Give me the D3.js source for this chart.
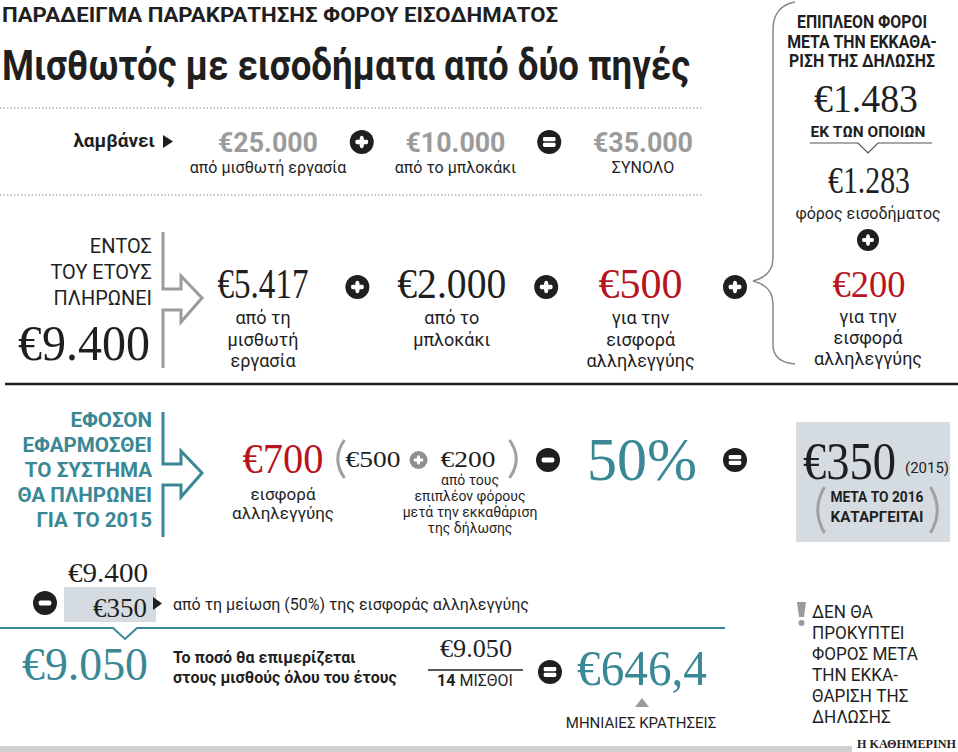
<!DOCTYPE html>
<html>
<head>
<meta charset="utf-8">
<script src="https://d3js.org/d3.v7.min.js"></script>
<style>
  body { margin: 0; background: #fff; }
</style>
</head>
<body>
<svg id="canvas" width="958" height="752"></svg>
<script>
// income received during the year
const incomeValues = [25000, 10000, 35000];
const incomeLabels = ["από μισθωτή εργασία", "από το μπλοκάκι", "ΣΥΝΟΛΟ"];
const incomeOps = ["plus", "equals"];

// what is paid during the year
const paidTotal = 9400;
const paidValues = [5417, 2000, 500];
const paidLabels = [["από τη", "μισθωτή", "εργασία"], ["από το", "μπλοκάκι"], ["για την", "εισφορά", "αλληλεγγύης"]];

// extra taxes after the tax return
const extraTotal = 1483;
const extraValues = [1283, 200];
const extraLabels = [["φόρος εισοδήματος"], ["για την", "εισφορά", "αλληλεγγύης"]];

// new system
const solidarityTotal = 700;
const solidarityParts = [500, 200];
const reductionPct = 50;
const reducedAmount = 350;
const reducedYear = 2015;
const yearlyAfter = 9050;
const salaries = 14;
const monthlyWithholding = 646.4;

const svg = d3.select("#canvas");

const SANS = "Roboto, 'Open Sans', 'DejaVu Sans', sans-serif";
const SERIF = "'Liberation Serif', 'DejaVu Serif', serif";
const RED = "#b8141e", TEAL = "#3a8795", GRAY = "#9b9b9b", INK = "#1f1f1f", BOX = "#d4dce2";

const gr = d3.formatLocale({decimal: ",", thousands: ".", grouping: [3], currency: ["€", ""]});
const eur = gr.format("$,.0f");
const eur1 = gr.format("$,.1f");

let label = (x, y, s, o = {}) => {
  const t = svg.append("text")
    .attr("x", x).attr("y", y)
    .attr("text-anchor", o.anchor || "middle")
    .attr("font-family", o.family || SANS)
    .attr("font-size", o.size || 17)
    .attr("font-weight", o.weight || 400)
    .attr("fill", o.fill || INK)
    .text(s);
  if (o.width) {
    t.attr("textLength", o.width).attr("lengthAdjust", "spacingAndGlyphs");
  } else if (o.squeeze) {
    t.attr("textLength", t.node().getComputedTextLength() * o.squeeze).attr("lengthAdjust", "spacingAndGlyphs");
  }
  return t;
};

let lines = (x, y0, arr, step, o) => arr.forEach((s, i) => label(x, y0 + i * step, s, o));

// round black operator icons
let op = (x, y, type, r = 12, fill = INK) => {
  const g = svg.append("g").attr("transform", `translate(${x},${y})`);
  g.append("circle").attr("r", r).attr("fill", fill);
  const w = r * 1.05, h = r * 0.36;
  const bar = (bx, by, bw, bh) => g.append("rect")
    .attr("x", bx).attr("y", by).attr("width", bw).attr("height", bh)
    .attr("rx", bh / 3).attr("fill", "#fff");
  if (type === "plus") {
    bar(-w / 2, -h / 2, w, h);
    bar(-h / 2, -w / 2, h, w);
  } else if (type === "minus") {
    bar(-w / 2, -h * 0.6, w, h * 1.2);
  } else {
    bar(-w / 2, -h * 1.15, w, h);
    bar(-w / 2, h * 0.15, w, h);
  }
};

let line = d3.line();

// outlined arrow that points to the right
let arrow = (x, yTop, yMid, yBot, color) => {
  svg.append("path")
    .attr("d", line([
      [x, yTop], [x, yMid - 9], [x + 18, yMid - 9], [x + 18, yMid - 22], [x + 39, yMid],
      [x + 18, yMid + 24], [x + 18, yMid + 12], [x, yMid + 12], [x, yBot]
    ]))
    .attr("fill", "none").attr("stroke", color).attr("stroke-width", 3);
};

let paren = (x, y0, y1, side, color = "#a0a0a0") => {
  const k = side === "left" ? -9 : 9;
  svg.append("path")
    .attr("d", `M${x - k / 2},${y0} Q${x + k},${(y0 + y1) / 2} ${x - k / 2},${y1}`)
    .attr("fill", "none").attr("stroke", color).attr("stroke-width", 3);
};

// ---------- header ----------
label(2, 22, "ΠΑΡΑΔΕΙΓΜΑ ΠΑΡΑΚΡΑΤΗΣΗΣ ΦΟΡΟΥ ΕΙΣΟΔΗΜΑΤΟΣ", {anchor: "start", weight: 700, size: 20, width: 556});
label(2, 80, "Μισθωτός με εισοδήματα από δύο πηγές", {anchor: "start", weight: 700, size: 42, width: 688});

[108, 195].forEach(y => svg.append("line")
  .attr("x1", 0).attr("x2", 703).attr("y1", y).attr("y2", y)
  .attr("stroke", "#8a8a8a").attr("stroke-width", 1).attr("stroke-dasharray", "1.5,2"));

// ---------- income row ----------
label(155, 147, "λαμβάνει", {anchor: "end", weight: 700, size: 19});
svg.append("path").attr("d", line([[163, 135], [173, 141.5], [163, 148]])).attr("fill", INK);

const incomeX = d3.scalePoint().domain(d3.range(incomeValues.length * 2 - 1)).range([268, 643]);
incomeValues.forEach((v, i) => {
  label(incomeX(i * 2), 152, eur(v), {size: 28, weight: 700, fill: GRAY, width: 100});
  label(incomeX(i * 2), 173, incomeLabels[i], {size: 16});
});
incomeOps.forEach((t, i) => op(incomeX(i * 2 + 1), 142, t));

// ---------- paid during the year ----------
lines(152, 253, ["ΕΝΤΟΣ", "ΤΟΥ ΕΤΟΥΣ", "ΠΛΗΡΩΝΕΙ"], 26, {anchor: "end", size: 21, squeeze: 0.95});
label(18, 360, eur(paidTotal), {anchor: "start", family: SERIF, size: 50, width: 132});
arrow(163, 232, 298, 368, GRAY);

const payX = d3.scalePoint().domain(d3.range(paidValues.length * 2)).range([263, 735]);
const payWidth = [91, 109, 84];
paidValues.forEach((v, i) => {
  label(payX(i * 2), 298, eur(v), {family: SERIF, size: 42, fill: i === 2 ? RED : INK, width: payWidth[i]});
  lines(payX(i * 2), 324, paidLabels[i], 21.5, {size: 18});
  op(payX(i * 2 + 1), 287, "plus");
});

// brace and extra taxes panel
svg.append("path")
  .attr("d", "M795,2 Q773,6 773,30 L773,258 Q773,276 753,281 Q773,286 773,304 L773,345 Q773,362 795,364")
  .attr("fill", "none").attr("stroke", "#8a8a8a").attr("stroke-width", 1.5);

lines(862, 28, ["ΕΠΙΠΛΕΟΝ ΦΟΡΟΙ", "ΜΕΤΑ ΤΗΝ ΕΚΚΑΘΑ-", "ΡΙΣΗ ΤΗΣ ΔΗΛΩΣΗΣ"], 19.5, {weight: 700, size: 18, squeeze: 0.88});
label(866, 112, eur(extraTotal), {family: SERIF, size: 40, width: 104});
label(868, 137, "ΕΚ ΤΩΝ ΟΠΟΙΩΝ", {weight: 700, size: 14, width: 115});
svg.append("path")
  .attr("d", line([[810, 143], [858, 143], [868, 153], [878, 143], [932, 143]]))
  .attr("fill", "none").attr("stroke", "#555").attr("stroke-width", 1.2);

const extraY = d3.scalePoint().domain(d3.range(extraValues.length)).range([193, 297]);
const extraWidth = [82, 73];
extraValues.forEach((v, i) => {
  label(869, extraY(i), eur(v), {family: SERIF, size: 37, fill: i === 1 ? RED : INK, width: extraWidth[i]});
  lines(868, extraY(i) + 26, extraLabels[i], 21, {size: i === 0 ? 16 : 18});
});
op(868, 240, "plus", 11);

svg.append("line").attr("x1", 5).attr("x2", 958).attr("y1", 384).attr("y2", 384)
  .attr("stroke", INK).attr("stroke-width", 2.5);

// ---------- if the system is applied ----------
lines(152, 427, ["ΕΦΟΣΟΝ", "ΕΦΑΡΜΟΣΘΕΙ", "ΤΟ ΣΥΣΤΗΜΑ", "ΘΑ ΠΛΗΡΩΝΕΙ", "ΓΙΑ ΤΟ 2015"], 25,
  {anchor: "end", weight: 700, size: 21, fill: TEAL, squeeze: 0.98});
arrow(163, 412, 473, 537, TEAL);

label(283, 473, eur(solidarityTotal), {family: SERIF, size: 42, fill: RED, width: 81});
lines(283, 500, ["εισφορά", "αλληλεγγύης"], 19, {size: 17});

paren(340, 440, 478, "left");
const partX = d3.scalePoint().domain(d3.range(solidarityParts.length * 2 - 1)).range([373, 468]);
solidarityParts.forEach((v, i) => label(partX(i * 2), 467, eur(v), {family: SERIF, size: 23, width: 55}));
op(partX(1) - 2, 460, "plus", 9, "#8f8f8f");
paren(514, 440, 478, "right");
lines(470, 485, ["από τους", "επιπλέον φόρους", "μετά την εκκαθάριση", "της δήλωσης"], 16, {size: 14});

op(548, 460, "minus");
label(642, 480, reductionPct + "%", {family: SERIF, size: 62, fill: TEAL, width: 110});
op(735, 460, "equals");

svg.append("rect").attr("x", 796).attr("y", 422).attr("width", 154).attr("height", 120).attr("fill", BOX);
label(803, 479, eur(reducedAmount), {anchor: "start", family: SERIF, size: 52, width: 93});
label(905, 473, `(${reducedYear})`, {anchor: "start", size: 15});
lines(877, 502, ["ΜΕΤΑ ΤΟ 2016", "ΚΑΤΑΡΓΕΙΤΑΙ"], 20, {weight: 700, size: 14, width: 93});
paren(820, 487, 533, "left");
paren(935, 487, 533, "right");

// ---------- result ----------
label(68, 582, eur(paidTotal), {anchor: "start", family: SERIF, size: 28, width: 80});
op(45, 603, "minus");
svg.append("rect").attr("x", 64).attr("y", 587).attr("width", 92).attr("height", 35).attr("fill", BOX);
label(93, 617, eur(reducedAmount), {anchor: "start", family: SERIF, size: 28, width: 54});
svg.append("path").attr("d", line([[153, 597], [162, 603.5], [153, 610]])).attr("fill", INK);
label(173, 610, `από τη μείωση (${reductionPct}%) της εισφοράς αλληλεγγύης`, {anchor: "start", size: 16});

svg.append("path")
  .attr("d", line([[0, 628], [113, 628], [125, 639], [137, 628], [725, 628]]))
  .attr("fill", "none").attr("stroke", TEAL).attr("stroke-width", 2);

label(22, 680, eur(yearlyAfter), {anchor: "start", family: SERIF, size: 47, fill: TEAL, width: 126});
label(173, 663, "Το ποσό θα επιμερίζεται", {anchor: "start", weight: 700, size: 16});
label(173, 683, "στους μισθούς όλου του έτους", {anchor: "start", weight: 700, size: 16});

label(476, 657, eur(yearlyAfter), {family: SERIF, size: 26, width: 72});
svg.append("line").attr("x1", 428).attr("x2", 523).attr("y1", 670).attr("y2", 670)
  .attr("stroke", INK).attr("stroke-width", 1.5);
const frac = label(475, 686, "", {size: 16});
frac.append("tspan").attr("font-weight", 700).text(salaries);
frac.append("tspan").attr("font-weight", 400).text(" ΜΙΣΘΟΙ");

op(550, 672, "equals");
label(577, 685, eur1(monthlyWithholding), {anchor: "start", family: SERIF, size: 50, fill: TEAL, width: 130});
svg.append("path").attr("d", line([[635, 707], [649, 707], [642, 698]])).attr("fill", GRAY);
label(641, 728, "ΜΗΝΙΑΙΕΣ ΚΡΑΤΗΣΕΙΣ", {size: 15});

// note
svg.append("path").attr("d", line([[797, 602], [806, 602], [804, 617], [799, 617]])).attr("fill", GRAY);
svg.append("circle").attr("cx", 801.5).attr("cy", 623).attr("r", 3).attr("fill", GRAY);
lines(812, 618, ["ΔΕΝ ΘΑ", "ΠΡΟΚΥΠΤΕΙ", "ΦΟΡΟΣ ΜΕΤΑ", "ΤΗΝ ΕΚΚΑ-", "ΘΑΡΙΣΗ ΤΗΣ", "ΔΗΛΩΣΗΣ"], 21,
  {anchor: "start", size: 19, squeeze: 0.9});

// footer
svg.append("rect").attr("x", 0).attr("y", 746).attr("width", 852).attr("height", 6).attr("fill", "#d0d0d0");
label(956, 748, "Η ΚΑΘΗΜΕΡΙΝΗ", {anchor: "end", family: SERIF, weight: 700, size: 12, width: 99});
</script>
</body>
</html>
